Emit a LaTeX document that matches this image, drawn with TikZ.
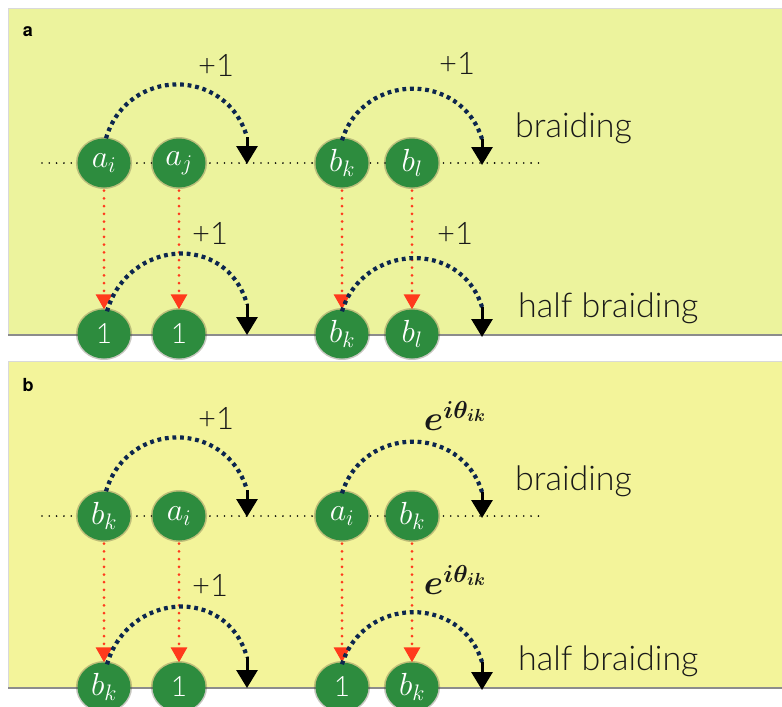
\documentclass[tikz,border=0pt]{standalone}
\usepackage{fix-cm}
\usepackage{fontspec}
\usepackage{amsmath,bm}
\usetikzlibrary{arrows.meta,shapes.geometric,shadows}
\IfFontExistsTF{Lato Light}{\newfontfamily\lightsf{Lato Light}}{\newfontfamily\lightsf{TeX Gyre Heros}}
\newfontfamily\boldsf{TeX Gyre Heros}
\definecolor{panelA}{RGB}{236,243,157}
\definecolor{panelB}{RGB}{243,244,154}
\definecolor{nodegreen}{RGB}{45,140,62}
\definecolor{navy}{RGB}{12,38,78}
\definecolor{redarrow}{RGB}{255,58,28}
\begin{document}
\begin{tikzpicture}[x=1pt,y=-1pt,
  particle/.style={ellipse, minimum width=53pt, minimum height=49pt, inner sep=0pt,
    fill=nodegreen, text=white, font=\fontsize{32}{32}\selectfont,
    drop shadow={shadow xshift=0pt, shadow yshift=0pt, shadow scale=1.06, opacity=0.3, fill=black!65!olive}},
  one/.style={font=\lightsf\fontsize{28}{28}\selectfont},
  hline/.style={draw=black, line width=1.8pt, line cap=round, dash pattern=on 0pt off 7.3pt},
  reddots/.style={draw=redarrow, line width=3pt, line cap=round, dash pattern=on 0pt off 7.7pt,
    -{Triangle[width=16pt,length=15pt,fill=redarrow]}, shorten <=3pt},
  braid/.style={draw=navy, line width=4.2pt, dash pattern=on 3.8pt off 3.8pt},
  tiparrow/.style={draw=black, line width=3pt, -{Triangle[width=21pt,length=18pt]}},
  lbl/.style={font=\lightsf\fontsize{31}{31}\selectfont, inner sep=0pt, text=black!90},
  phase/.style={font=\fontsize{35}{35}\selectfont, inner sep=0pt, text=black!90},
  word/.style={font=\lightsf\fontsize{34}{34}\selectfont, inner sep=0pt, anchor=west, text=black!90},
  plabel/.style={font=\boldsf\bfseries\fontsize{18}{18}\selectfont, inner sep=0pt}
]
\useasboundingbox (0,0) rectangle (782,707);
% panels
\fill[panelA] (8,8) rectangle (782,335);
\draw[black!15, line width=0.8pt] (8,335) -- (8,8) -- (782,8);
\draw[black!45, line width=1.4pt] (8,335) -- (782,335);
\fill[panelB] (8,361) rectangle (782,688);
\draw[black!15, line width=0.8pt] (8,688) -- (8,361) -- (782,361);
\draw[black!45, line width=1.4pt] (8,688) -- (782,688);

\node[plabel] (pa) at (28,32) {a};
\node[plabel] (pb) at (28,385) {b};

% ---------------- panel a ----------------
\coordinate (la) at (42,163);
\coordinate (ra) at (540,163);
\draw[hline] (la) -- (ra);

\node[particle] (a1) at (104,163) {$a_i$};
\node[particle] (a2) at (179,163) {$a_j$};
\node[particle] (a3) at (342,163) {$b_k$};
\node[particle] (a4) at (412,163) {$b_l$};
\node[particle, one] (a5) at (104,334) {1};
\node[particle, one] (a6) at (179,334) {1};
\node[particle] (a7) at (342,334) {$b_k$};
\node[particle] (a8) at (412,334) {$b_l$};

\draw[reddots] (a1.south) -- (a5.north);
\draw[reddots] (a2.south) -- (a6.north);
\draw[reddots] (a3.south) -- (a7.north);
\draw[reddots] (a4.south) -- (a8.north);

\coordinate (ae1) at (247,137); \coordinate (at1) at (247,164);
\coordinate (ae2) at (482,139); \coordinate (at2) at (482,165);
\coordinate (ae3) at (247,304); \coordinate (at3) at (247,335);
\coordinate (ae4) at (482,307); \coordinate (at4) at (482,337);

\draw[braid] ([xshift=2pt]a1.north) .. controls +(21,-71) and +(-21,-71) .. (ae1);
\draw[tiparrow] (ae1) -- (at1);
\draw[braid] ([yshift=-2pt]a3.north) .. controls +(21,-68) and +(-21,-68) .. (ae2);
\draw[tiparrow] (ae2) -- (at2);
\draw[braid] ([xshift=3pt,yshift=-2pt]a5.north) .. controls +(21,-72) and +(-21,-72) .. (ae3);
\draw[tiparrow] (ae3) -- (at3);
\draw[braid] ([yshift=-2pt]a7.north) .. controls +(21,-68) and +(-21,-68) .. (ae4);
\draw[tiparrow] (ae4) -- (at4);

\node[lbl] (ap1) at (216,65) {+1};
\node[lbl] (ap2) at (457,63) {+1};
\node[lbl] (ap3) at (210,233) {+1};
\node[lbl] (ap4) at (455,233) {+1};
\node[word] (aw1) at (515,128) {braiding};
\node[word] (aw2) at (518,308) {half braiding};

% ---------------- panel b ----------------
\coordinate (lb) at (42,516);
\coordinate (rb) at (540,516);
\draw[hline] (lb) -- (rb);

\node[particle] (b1) at (104,516) {$b_k$};
\node[particle] (b2) at (179,516) {$a_i$};
\node[particle] (b3) at (342,516) {$a_i$};
\node[particle] (b4) at (412,516) {$b_k$};
\node[particle] (b5) at (104,687) {$b_k$};
\node[particle, one] (b6) at (179,687) {1};
\node[particle, one] (b7) at (342,687) {1};
\node[particle] (b8) at (412,687) {$b_k$};

\draw[reddots] (b1.south) -- (b5.north);
\draw[reddots] (b2.south) -- (b6.north);
\draw[reddots] (b3.south) -- (b7.north);
\draw[reddots] (b4.south) -- (b8.north);

\coordinate (be1) at (247,490); \coordinate (bt1) at (247,517);
\coordinate (be2) at (482,492); \coordinate (bt2) at (482,518);
\coordinate (be3) at (247,657); \coordinate (bt3) at (247,688);
\coordinate (be4) at (482,662); \coordinate (bt4) at (482,690);

\draw[braid] ([xshift=2pt]b1.north) .. controls +(21,-71) and +(-21,-71) .. (be1);
\draw[tiparrow] (be1) -- (bt1);
\draw[braid] ([yshift=-2pt]b3.north) .. controls +(21,-68) and +(-21,-68) .. (be2);
\draw[tiparrow] (be2) -- (bt2);
\draw[braid] ([xshift=3pt,yshift=-2pt]b5.north) .. controls +(21,-72) and +(-21,-72) .. (be3);
\draw[tiparrow] (be3) -- (bt3);
\draw[braid] ([yshift=-2pt]b7.north) .. controls +(21,-68) and +(-21,-68) .. (be4);
\draw[tiparrow] (be4) -- (bt4);

\node[lbl] (bp1) at (216,418) {+1};
\node[phase] (bp2) at (455,416) {$\bm{e^{i\theta_{ik}}}$};
\node[lbl] (bp3) at (210,585) {+1};
\node[phase] (bp4) at (455,580) {$\bm{e^{i\theta_{ik}}}$};
\node[word] (bw1) at (515,481) {braiding};
\node[word] (bw2) at (518,661) {half braiding};
\end{tikzpicture}
\end{document}
